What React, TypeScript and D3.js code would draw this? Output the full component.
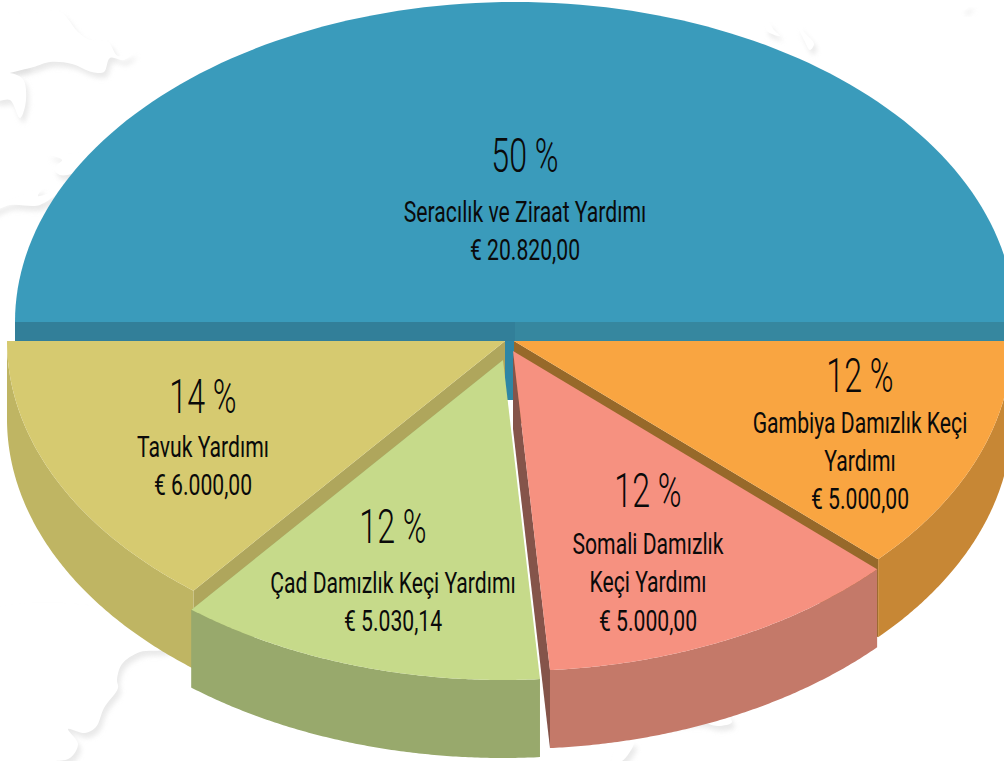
import React from "react";
import * as d3 from "d3";

// ---- data ----
const topCategories = ["Seracılık ve Ziraat Yardımı"];
const topValues = [20820.0];
const categories = ["Gambiya Damızlık Keçi Yardımı", "Somali Damızlık Keçi Yardımı", "Çad Damızlık Keçi Yardımı", "Tavuk Yardımı"];
const values = [5000.0, 5000.0, 5030.14, 6000.0];

// ---- layout ----
const W = 1004, H = 761;
const TOP_RX = 500, RX = 498, RY = 320, DEPTH = 78;
const topCenter = { x: 515, y: 322 };
const bandBottom = 341;
const stripLeft = 505;
const centers = [
  { x: 514, y: 341 },
  { x: 513, y: 351 },
  { x: 503, y: 360 },
  { x: 505, y: 341 },
];
const topFill = ["#F9A541", "#F69180", "#C6DA8A", "#D6CA70"];
const sideFill = ["#C78735", "#C47969", "#98A96C", "#BFB563"];
const faceFill = ["#97692A", "#85544A", "#98A96C", "#AFA65C"];
const drawOrder = [0, 3, 2, 1];

type Lbl = { x: number; pct: [string, number]; lines: [string, number][]; };
const labels: Lbl[] = [
  { x: 525, pct: ["50 %", 172], lines: [["Seracılık ve Ziraat Yardımı", 222], ["€ 20.820,00", 260]] },
  { x: 860, pct: ["12 %", 392], lines: [["Gambiya Damızlık Keçi", 433], ["Yardımı", 471], ["€ 5.000,00", 509]] },
  { x: 648, pct: ["12 %", 507], lines: [["Somali Damızlık", 554], ["Keçi Yardımı", 592], ["€ 5.000,00", 631]] },
  { x: 393, pct: ["12 %", 543], lines: [["Çad Damızlık Keçi Yardımı", 593], ["€ 5.030,14", 631]] },
  { x: 203, pct: ["14 %", 413], lines: [["Tavuk Yardımı", 457], ["€ 6.000,00", 495]] },
];

// faint world map in the page background
const mapShapes: [number, number][][] = [
  [[-10, 16], [28, 14], [60, 12], [78, 32], [90, 40], [108, 42], [118, 56], [134, 52], [124, 60], [110, 58], [104, 72], [92, 72], [72, 64], [50, 62], [30, 68], [-10, 72]],
  [[-6, 58], [14, 56], [28, 66], [6, 70], [-6, 76]],
  [[-4, 74], [22, 78], [26, 100], [20, 118], [10, 100], [-4, 100]],
  [[48, 154], [70, 154], [90, 152], [80, 170], [60, 175], [54, 168], [62, 160]],
  [[-10, 208], [20, 196], [42, 188], [38, 196], [60, 190], [40, 205], [10, 205], [-10, 212]],
  [[168, 648], [140, 652], [122, 664], [117, 680], [118, 688], [104, 708], [96, 727], [85, 733], [68, 729], [78, 744], [70, 758], [48, 762], [-30, 780], [-30, 620], [150, 620]],
  [[768, 22], [774, 30], [780, 36], [772, 34], [766, 30]],
  [[798, 26], [806, 34], [814, 44], [810, 50], [804, 40]],
  [[962, 8], [972, 4], [970, 6], [964, 10]],
  [[640, 720], [712, 704], [732, 722], [718, 726], [700, 722], [650, 724]],
  [[620, 745], [634, 742], [622, 761], [612, 761]],
];

// angle 0 at the top, clockwise; points on the flattened ellipse
const pt = (c: { x: number; y: number }, a: number, dy = 0, rx = RX): [number, number] => [
  c.x + rx * Math.sin(a),
  c.y - RY * Math.cos(a) + dy,
];

const arcPts = (c: { x: number; y: number }, a0: number, a1: number, dy = 0, rx = RX) =>
  d3.range(0, 121).map((i) => pt(c, a0 + ((a1 - a0) * i) / 120, dy, rx));

const line = d3.line();
const smooth = d3.line().curve(d3.curveCatmullRomClosed.alpha(0.5));

const topPie = d3.pie<number>().sort(null).startAngle(-Math.PI / 2).endAngle(Math.PI / 2)(topValues)[0];
const lowerPie = d3.pie<number>().sort(null).startAngle(Math.PI / 2 + 0.005).endAngle((3 * Math.PI) / 2)(values);

const SX_BIG = 0.67, SX_TXT = 0.73;

function Txt({ x, y, t, size, sx, weight }: { x: number; y: number; t: string; size: number; sx: number; weight: number }) {
  return (
    <text
      transform={`translate(${x},${y}) scale(${sx},1)`}
      textAnchor="middle"
      fontFamily="Roboto, sans-serif"
      fontSize={size}
      fontWeight={weight}
      fill="#0a0a0a"
    >
      {t}
    </text>
  );
}

export default function App() {
  const top = arcPts(topCenter, topPie.startAngle, topPie.endAngle, 0, TOP_RX);
  return (
    <svg
      width={W}
      height={H}
      viewBox={`0 0 ${W} ${H}`}
      style={{ position: "fixed", left: 0, top: 0, background: "#fff" }}
    >
      <defs>
        <filter id="mapShadow" x="-30%" y="-30%" width="160%" height="160%">
          <feGaussianBlur stdDeviation="2.5" />
        </filter>
      </defs>
      <g>
        {mapShapes.map((s, i) => (
          <path key={i} d={smooth(s.map(([x, y]) => [x + 3, y + 5]) as [number, number][]) || ""} fill="#d8d8d8" opacity={0.55} filter="url(#mapShadow)" />
        ))}
        {mapShapes.map((s, i) => (
          <path key={i} d={smooth(s) || ""} fill="#fff" />
        ))}
      </g>

      {/* upper half */}
      <path d={(line(top) || "") + "Z"} fill="#3A9BBB" data-name={topCategories[0]} />
      <rect x={top[0][0]} y={topCenter.y} width={topCenter.x - top[0][0]} height={bandBottom - topCenter.y} fill="#327F99" />
      <rect x={topCenter.x} y={topCenter.y} width={W - topCenter.x} height={bandBottom - topCenter.y} fill="#36879F" />
      <rect x={stripLeft} y={bandBottom} width={centers[0].x - stripLeft} height={59} fill="#2E86A4" />

      {/* lower slices */}
      {drawOrder.map((i) => {
        const s = lowerPie[i];
        const c = centers[i];
        // the first slice keeps a level top edge against the band above it
        const a0 = i === 0 ? Math.PI / 2 : s.startAngle;
        const rim = arcPts(c, a0, s.endAngle);
        const rimLow = arcPts(c, a0, s.endAngle, DEPTH);
        const apex: [number, number] = [c.x, c.y];
        const apexLow: [number, number] = [c.x, c.y + DEPTH];
        // inner wall: the straight cut that faces the viewer
        const wallAngle = i === 3 ? s.startAngle : s.endAngle;
        const wall: [number, number][] = [apex, pt(c, wallAngle), pt(c, wallAngle, DEPTH), apexLow];
        return (
          <g key={categories[i]}>
            <path d={(line(wall) || "") + "Z"} fill={faceFill[i]} />
            <path d={(line([...rim, ...rimLow.slice().reverse()]) || "") + "Z"} fill={sideFill[i]} />
            <path d={(line([apex, ...rim]) || "") + "Z"} fill={topFill[i]} />
          </g>
        );
      })}

      {/* labels */}
      {labels.map((l, i) => (
        <g key={i}>
          <Txt x={l.x} y={l.pct[1]} t={l.pct[0]} size={48} sx={SX_BIG} weight={300} />
          {l.lines.map(([t, y]) => (
            <Txt key={t + y} x={l.x} y={y} t={t} size={29} sx={SX_TXT} weight={400} />
          ))}
        </g>
      ))}
    </svg>
  );
}
